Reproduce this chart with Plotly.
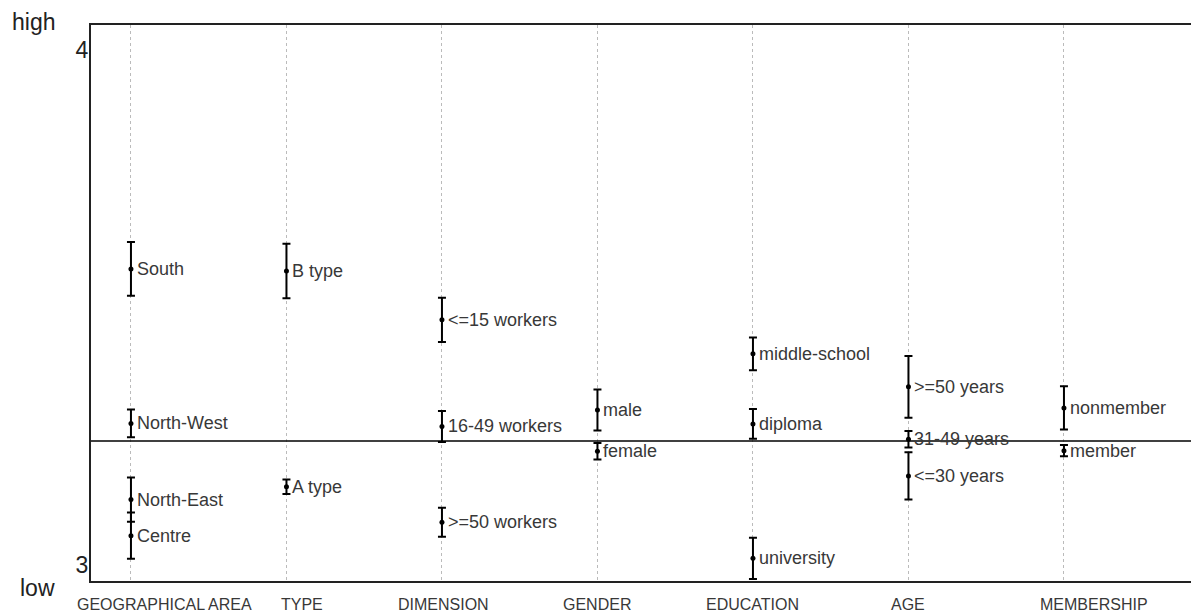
import plotly.graph_objects as go

# Groups shown along the x axis
groups = ["GEOGRAPHICAL AREA", "TYPE", "DIMENSION", "GENDER", "EDUCATION", "AGE", "MEMBERSHIP"]

# One entry per subgroup: group index, label, mean score and error half-width
group_idx = [0, 0, 0, 0,
             1, 1,
             2, 2, 2,
             3, 3,
             4, 4, 4,
             5, 5, 5,
             6, 6]
labels = ["South", "North-West", "North-East", "Centre",
          "B type", "A type",
          "<=15 workers", "16-49 workers", ">=50 workers",
          "male", "female",
          "middle-school", "diploma", "university",
          ">=50 years", "31-49 years", "<=30 years",
          "nonmember", "member"]
means = [3.575, 3.275, 3.127, 3.057,
         3.571, 3.152,
         3.476, 3.269, 3.083,
         3.301, 3.221,
         3.410, 3.274, 3.013,
         3.346, 3.244, 3.173,
         3.305, 3.222]
errors = [0.052, 0.027, 0.043, 0.045,
          0.053, 0.014,
          0.043, 0.030, 0.028,
          0.040, 0.016,
          0.032, 0.029, 0.040,
          0.060, 0.016, 0.046,
          0.042, 0.011]

overall_mean = 3.241
y_ticks = [3, 4]

FONT = "Liberation Sans, Arial, sans-serif"

fig = go.Figure()

fig.add_trace(go.Scatter(
    x=group_idx,
    y=means,
    mode="markers",
    marker=dict(color="black", size=5),
    error_y=dict(type="data", array=errors, visible=True, color="black", thickness=2, width=4),
    cliponaxis=False,
    showlegend=False,
))

# Subgroup names just right of each estimate
for gx, m, lab in zip(group_idx, means, labels):
    fig.add_annotation(text=lab, x=gx, y=m, xref="x", yref="y", xanchor="left", yanchor="middle",
                       xshift=4, showarrow=False,
                       font=dict(family=FONT, size=18, color="#383838"))

# Overall mean reference line
fig.add_shape(type="line", xref="paper", x0=0, x1=1, yref="y", y0=overall_mean, y1=overall_mean,
              line=dict(color="black", width=1.5), layer="above")

# Group names under the plot, nudged sideways as in the original layout
name_shift = [34, 16, 2, 0, 0, 0, 30]
for i, name in enumerate(groups):
    fig.add_annotation(text=name, x=i, xref="x", y=0, yref="paper", yanchor="middle",
                       yshift=-23, xshift=name_shift[i], showarrow=False,
                       font=dict(family=FONT, size=16, color="#383838"))

fig.add_annotation(text="high", xref="paper", yref="paper", x=-0.031, y=1.0, xanchor="right",
                   yanchor="middle", yshift=3, showarrow=False,
                   font=dict(family=FONT, size=23, color="#222222"))
fig.add_annotation(text="low", xref="paper", yref="paper", x=-0.031, y=0.0, xanchor="right",
                   yanchor="middle", yshift=-7, showarrow=False,
                   font=dict(family=FONT, size=23, color="#222222"))

fig.update_layout(
    width=1191,
    height=614,
    margin=dict(l=91, r=0, t=25, b=33),
    paper_bgcolor="white",
    plot_bgcolor="white",
    font=dict(family=FONT, color="#333333"),
    xaxis=dict(
        range=[-0.257, 6.817],
        tickmode="array",
        tickvals=list(range(len(groups))),
        showticklabels=False,
        ticks="",
        showgrid=True,
        gridcolor="#bbbbbb",
        griddash="dot",
        gridwidth=1,
        zeroline=False,
        showline=True,
        linecolor="#222222",
        linewidth=2,
        mirror=True,
    ),
    yaxis=dict(
        range=[2.969, 4.0485],
        tickmode="array",
        tickvals=y_ticks,
        ticktext=[str(v) for v in y_ticks],
        tickfont=dict(size=23, color="#222222"),
        ticks="",
        ticklabelstandoff=-4,
        showgrid=False,
        zeroline=False,
        showline=True,
        linecolor="#222222",
        linewidth=2,
    ),
)

fig.write_html("out.html")
